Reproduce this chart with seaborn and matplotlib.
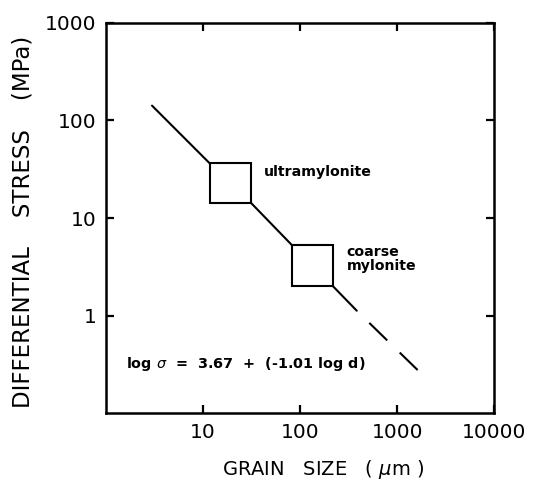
import numpy as np
import pandas as pd
import matplotlib
matplotlib.use('Agg')
import matplotlib.pyplot as plt
import seaborn as sns
from matplotlib.patches import Rectangle

# ---- data ----
# solid trend segments, joined in pairs (start, end)
seg_id     = [0, 0, 1, 1, 2, 2]
seg_grain  = [2.98, 11.7, 31.4, 82.0, 218.0, 384.0]
seg_stress = [142.0, 36.4, 14.2, 5.3, 2.0, 1.12]

# dashed extrapolation
ext_grain  = [384.0, 1634.0]
ext_stress = [1.12, 0.275]

# grain size / stress ranges of the two rock types
box_names      = ['ultramylonite', 'coarse\nmylonite']
box_grain_lo   = [11.7, 82.0]
box_grain_hi   = [31.4, 218.0]
box_stress_lo  = [14.2, 2.0]
box_stress_hi  = [36.4, 5.3]

x_ticks = [10, 100, 1000, 10000]
y_ticks = [1, 10, 100, 1000]

# ---- style ----
sns.set_style('ticks')
plt.rcParams['font.family'] = ['DejaVu Sans']
plt.rcParams['lines.scale_dashes'] = False
plt.rcParams['text.color'] = 'black'
plt.rcParams['axes.labelcolor'] = 'black'
plt.rcParams['xtick.color'] = 'black'
plt.rcParams['ytick.color'] = 'black'
plt.rcParams['axes.edgecolor'] = 'black'

fig = plt.figure(figsize=(5.39, 4.83), dpi=100)
ax = fig.add_axes([0.1967, 0.1449, 0.72, 0.8075])
ax.set_xscale('log')
ax.set_yscale('log')

seg_df = pd.DataFrame({'grain': seg_grain, 'stress': seg_stress, 'seg': seg_id})
sns.lineplot(data=seg_df, x='grain', y='stress', units='seg', estimator=None,
             sort=False, color='black', lw=1.5, ax=ax)
sns.lineplot(x=ext_grain, y=ext_stress, estimator=None, sort=False,
             color='black', lw=1.5, linestyle=(18, (18, 12.6)), ax=ax)

for lo_x, hi_x, lo_y, hi_y in zip(box_grain_lo, box_grain_hi, box_stress_lo, box_stress_hi):
    ax.add_patch(Rectangle((lo_x, lo_y), hi_x - lo_x, hi_y - lo_y,
                           fill=False, edgecolor='black', lw=1.5))

ax.text(42, 29.6, box_names[0], fontsize=10.2, fontweight='bold', va='center', ha='left')
ax.text(303, 3.8, box_names[1], fontsize=10.2, fontweight='bold', va='center', ha='left',
        linespacing=1.05)
ax.text(1.61, 0.318, r'log $\sigma$  =  3.67  +  (-1.01 log d)', fontsize=10.4,
        fontweight='bold', va='center', ha='left')

ax.set_xlim(1, 10000)
ax.set_ylim(0.1, 1000)
ax.set_xticks(x_ticks)
ax.set_xticklabels([str(t) for t in x_ticks])
ax.set_yticks(y_ticks)
ax.set_yticklabels([str(t) for t in y_ticks])
ax.minorticks_off()
ax.tick_params(which='major', direction='in', length=6, width=1.6,
               top=True, right=True, labelsize=14.5, pad=7)

for sp in ax.spines.values():
    sp.set_linewidth(1.8)
    sp.set_visible(True)

ax.set_xlabel('GRAIN   SIZE   ( $\\mu$m )', fontsize=14)
ax.set_ylabel('DIFFERENTIAL    STRESS    (MPa)', fontsize=16.5)
ax.xaxis.set_label_coords(0.56, -0.115)
ax.yaxis.set_label_coords(-0.185, 0.49)

fig.savefig('out.png', dpi=100)
